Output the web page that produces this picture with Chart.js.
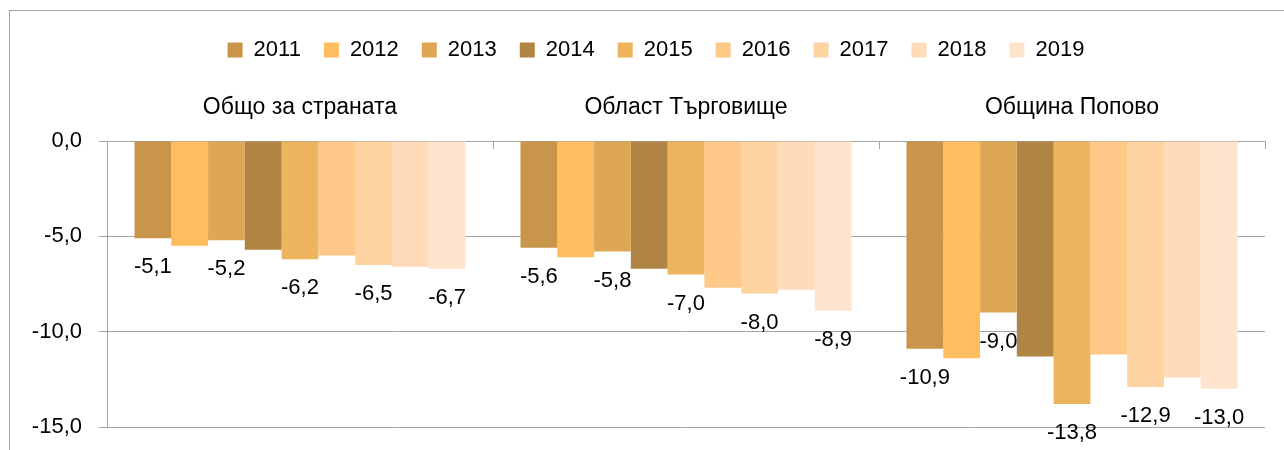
<!DOCTYPE html>
<html>
<head>
<meta charset="utf-8">
<script src="https://cdn.jsdelivr.net/npm/chart.js@4/dist/chart.umd.min.js"></script>
<style>
  html, body { margin: 0; padding: 0; background: #fff; width: 1284px; height: 450px; overflow: hidden; }
  #frame { position: absolute; left: 9px; top: 10px; width: 1320px; height: 480px; border: 1px solid #a3a3a3; box-sizing: border-box; }
  #c { position: absolute; left: 9px; top: 10px; }
</style>
</head>
<body>
<div id="frame"></div>
<canvas id="c" width="1294" height="440"></canvas>
<script>
const categories = ["Общо за страната", "Област Търговище", "Община Попово"];
const years = ["2011", "2012", "2013", "2014", "2015", "2016", "2017", "2018", "2019"];
const v2011 = [-5.1, -5.6, -10.9];
const v2012 = [-5.5, -6.1, -11.4];
const v2013 = [-5.2, -5.8, -9.0];
const v2014 = [-5.7, -6.7, -11.3];
const v2015 = [-6.2, -7.0, -13.8];
const v2016 = [-6.0, -7.7, -11.2];
const v2017 = [-6.5, -8.0, -12.9];
const v2018 = [-6.6, -7.8, -12.4];
const v2019 = [-6.7, -8.9, -13.0];
const yTicks = [0, -5, -10, -15];
const labelledYears = ["2011", "2013", "2015", "2017", "2019"];

const seriesValues = [v2011, v2012, v2013, v2014, v2015, v2016, v2017, v2018, v2019];
const colors = ["#C8954A", "#FEBE60", "#DDA755", "#B08442", "#EEB35D", "#FEC988", "#FED3A2", "#FEDBB9", "#FEE4CC"];
const FONT = "'Liberation Sans', Arial, sans-serif";
const fmt = v => v.toFixed(1).replace('.', ',');

const dataLabels = {
  id: 'dataLabels',
  afterDatasetsDraw(chart) {
    const ctx = chart.ctx;
    ctx.save();
    ctx.font = "22px " + FONT;
    ctx.fillStyle = "#000";
    ctx.textAlign = "center";
    ctx.textBaseline = "middle";
    chart.data.datasets.forEach((ds, di) => {
      if (!labelledYears.includes(ds.label)) return;
      const meta = chart.getDatasetMeta(di);
      meta.data.forEach((el, i) => {
        ctx.fillText(fmt(ds.data[i]), el.x, el.y + 29);
      });
    });
    ctx.restore();
  }
};

const catTicks = {
  id: 'catTicks',
  afterLayout(chart) {
    chart.legend.left += 7.5;
    chart.legend.right += 7.5;
  },
  afterDraw(chart) {
    const ctx = chart.ctx;
    const x = chart.scales.x;
    const y0 = chart.scales.y.getPixelForValue(0);
    const n = categories.length;
    const w = (x.getPixelForValue(1) - x.getPixelForValue(0));
    ctx.save();
    ctx.strokeStyle = "#a3a3a3";
    ctx.lineWidth = 1;
    for (let i = 1; i <= n; i++) {
      const px = Math.round(x.getPixelForValue(i - 1) + w / 2) + 0.5;
      ctx.beginPath();
      ctx.moveTo(px, y0);
      ctx.lineTo(px, y0 + 8);
      ctx.stroke();
    }
    ctx.restore();
  }
};

new Chart(document.getElementById('c'), {
  type: 'bar',
  data: {
    labels: categories,
    datasets: years.map((yr, i) => ({
      label: yr,
      data: seriesValues[i],
      backgroundColor: colors[i],
      borderWidth: 0,
      categoryPercentage: 0.8575,
      barPercentage: 1.0
    }))
  },
  options: {
    responsive: false,
    devicePixelRatio: 1,
    animation: false,
    layout: { padding: { top: 6, left: 23, right: 38, bottom: 23 } },
    plugins: {
      legend: {
        position: 'top',
        labels: {
          boxWidth: 15, boxHeight: 15, padding: 23,
          color: '#000',
          font: { family: FONT, size: 22 }
        }
      },
      tooltip: { enabled: false }
    },
    scales: {
      x: {
        position: 'top',
        grid: { display: false, drawTicks: false },
        border: { display: false },
        ticks: { color: '#000', padding: 20, font: { family: FONT, size: 23 } },
        afterFit(scale) { scale.height = 70; }
      },
      y: {
        min: -15, max: 0,
        afterBuildTicks(scale) { scale.ticks = yTicks.map(v => ({ value: v })); },
        afterFit(scale) { scale.width = 75; scale.paddingTop = 0; scale.paddingBottom = 0; },
        grid: { color: '#a3a3a3', lineWidth: 1, tickLength: 8, drawTicks: true },
        border: { display: true, color: '#a3a3a3', width: 1 },
        ticks: {
          color: '#000', padding: 17,
          font: { family: FONT, size: 22 },
          callback: v => fmt(v)
        }
      }
    }
  },
  plugins: [dataLabels, catTicks]
});
</script>
</body>
</html>
